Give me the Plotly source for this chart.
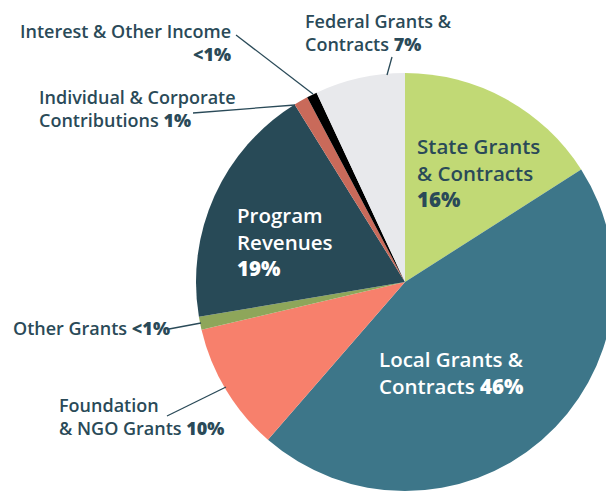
import plotly.graph_objects as go

# ---- data ----
categories = ["State Grants & Contracts", "Local Grants & Contracts", "Foundation & NGO Grants",
              "Other Grants", "Program Revenues", "Individual & Corporate Contributions",
              "Interest & Other Income", "Federal Grants & Contracts"]
values = [15.95, 45.4, 9.95, 1.0, 18.8, 1.1, 0.8, 6.95]
colors = ["#c1d975", "#3d7689", "#f7806c", "#8ea65a", "#284a57", "#c96a5a", "#000000", "#e8e9ec"]

W, H = 620, 491
TXT = "#2a4a58"
FONT = "Open Sans"


def X(px):
    return px / W


def Y(py):
    return 1 - py / H


def B(t):
    return '<span style="font-weight:800">' + t + '</span>'


cx, cy, r = 405, 282, 209

fig = go.Figure(go.Pie(
    labels=categories, values=values, sort=False, direction="clockwise", rotation=0,
    marker=dict(colors=colors, line=dict(width=0)), textinfo="none", hoverinfo="label+percent",
    domain=dict(x=[X(cx - r), X(cx + r)], y=[Y(cy + r), Y(cy - r)]), showlegend=False,
))

ann = []


def add(text, x, y, xanchor="left", size=18, color=TXT):
    ann.append(dict(text=text, x=X(x), y=Y(y), xref="paper", yref="paper", xanchor=xanchor,
                    yanchor="middle", showarrow=False, align=xanchor,
                    font=dict(family=FONT, size=size, color=color, weight=600)))


# outside labels
add("Interest &amp; Other Income<br>" + B("&lt;1%"), 233, 43, "right")
add("Individual &amp; Corporate<br>Contributions " + B("1%"), 37, 109)
add("Federal Grants &amp;<br>Contracts " + B("7%"), 303, 33)
add("Other Grants " + B("&lt;1%"), 11, 328)
add("Foundation<br>&amp; NGO Grants " + B("10%"), 57, 416)

# inside labels
add("State Grants<br>&amp; Contracts<br>" + B("16%"), 415, 172, size=20.5)
add("Program<br>Revenues<br>" + B("19%"), 235, 241, size=20.5, color="white")
add("Local Grants &amp;<br>Contracts " + B("46%"), 377, 372, size=20.5, color="white")

leaders = [((236, 35), (313, 94)), ((193, 113), (295, 105)), ((392, 57), (387, 75)),
           ((169, 329), (201, 323)), ((167, 416), (226, 387))]
shapes = [dict(type="line", xref="paper", yref="paper", x0=X(a[0]), y0=Y(a[1]), x1=X(b[0]), y1=Y(b[1]),
               line=dict(color=TXT, width=1.3)) for a, b in leaders]

fig.update_layout(width=W, height=H, margin=dict(l=0, r=0, t=0, b=0),
                  paper_bgcolor="white", plot_bgcolor="white", annotations=ann, shapes=shapes)

fig.write_html("out.html", config={"displayModeBar": False}, post_script=(
    "document.body.style.margin='0';document.body.style.overflow='hidden';"
    "document.documentElement.style.overflow='hidden';"))
